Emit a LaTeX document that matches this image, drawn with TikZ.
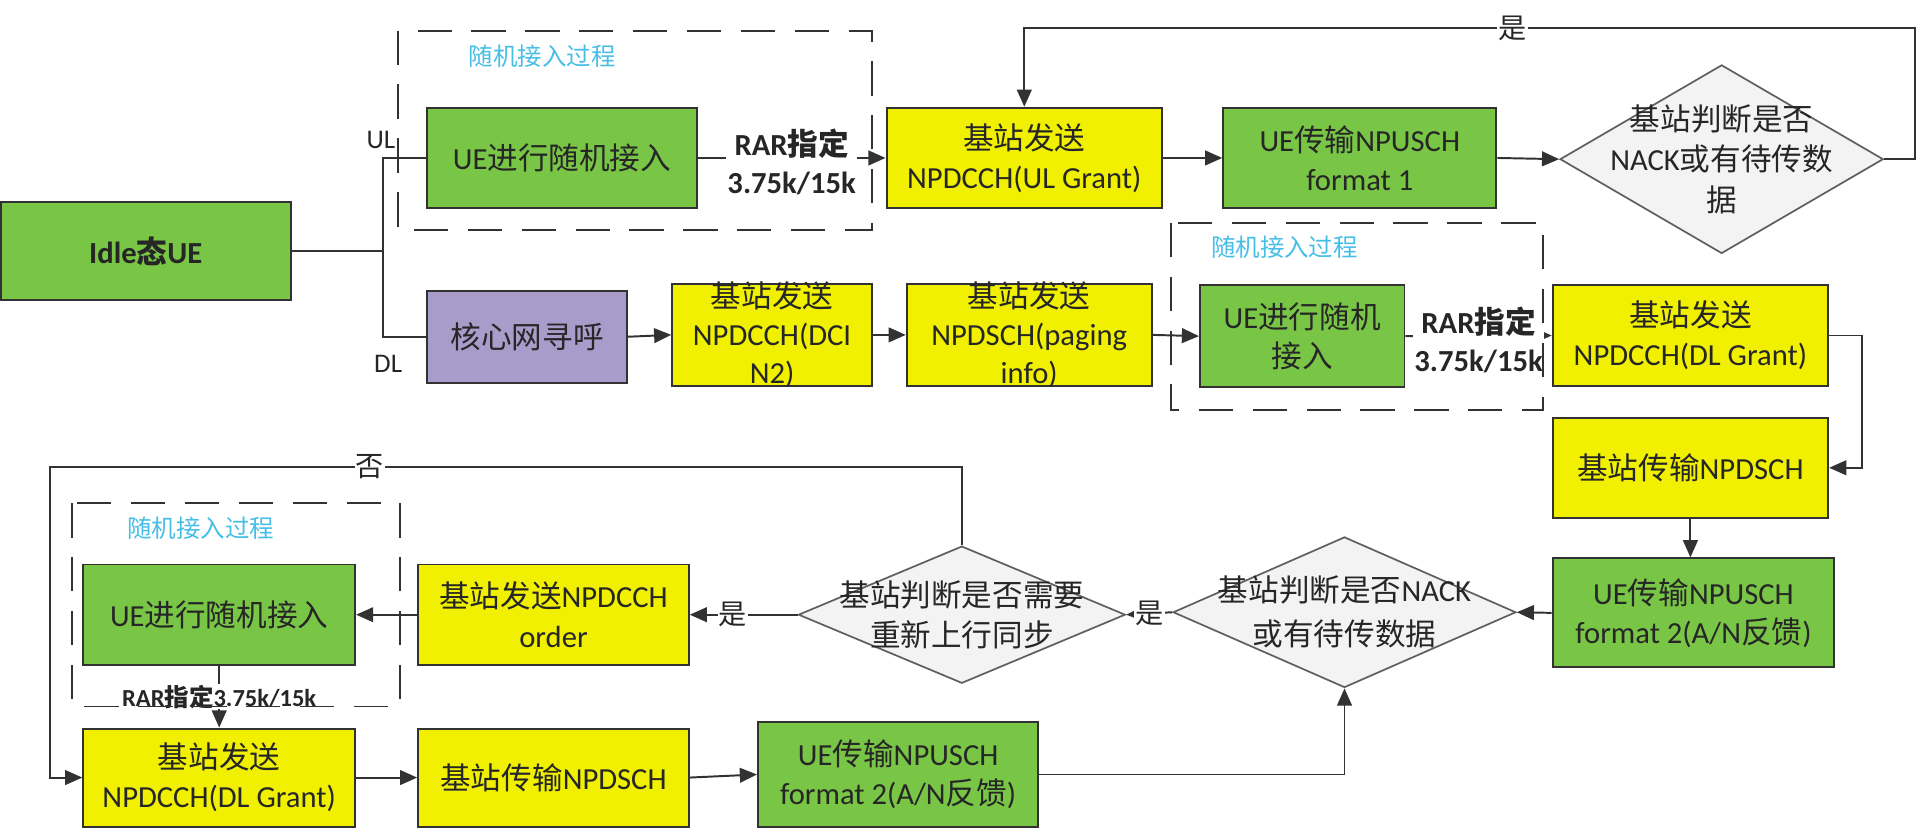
\documentclass[tikz,border=0pt]{standalone}
\usepackage{fontspec}
\setmainfont{Carlito}
\newfontfamily\zh{Noto Sans CJK SC}
\newcommand\zw[1]{{\zh #1}}
\usetikzlibrary{arrows.meta,shapes.geometric}
\definecolor{gfill}{RGB}{121,197,70}
\definecolor{yfill}{RGB}{240,240,0}
\definecolor{pfill}{RGB}{168,156,202}
\definecolor{dfill}{RGB}{243,243,243}
\definecolor{edge}{RGB}{50,50,50}
\definecolor{dedge}{RGB}{95,95,95}
\definecolor{txtc}{RGB}{38,38,38}
\definecolor{cyanlbl}{RGB}{70,190,230}
\begin{document}
\begin{tikzpicture}[x=1pt, y=-1pt,
  every node/.style={font=\fontsize{25}{32}\selectfont, text=txtc},
  sz/.style 2 args={minimum width=#1pt, minimum height=#2pt},
  basebox/.style={draw=edge, line width=1.6pt, inner sep=0pt, align=center},
  gbox/.style={basebox, fill=gfill},
  ybox/.style={basebox, fill=yfill},
  pbox/.style={basebox, fill=pfill},
  dia/.style={diamond, draw=dedge, fill=dfill, line width=1.4pt, inner sep=0pt, aspect=1},
  intext/.style 2 args={label={[align=center, inner sep=0pt, font=\fontsize{25}{#1}\selectfont]center:#2}},
  conn/.style={draw=edge, line width=1.6pt},
  arr/.style={conn, -{Triangle[length=14pt, width=12pt]}},
  lab/.style={fill=white, inner sep=1pt, font=\fontsize{23}{28}\selectfont\zh},
  rar/.style={fill=white, inner sep=1pt, align=center, yshift=-3pt, font=\fontsize{25}{31}\selectfont\bfseries},
  rarsmall/.style={fill=white, inner sep=0.5pt, font=\fontsize{20}{24}\selectfont\bfseries},
  grouplbl/.style={text=cyanlbl, font=\fontsize{20}{24}\selectfont\zh},
  groupbox/.style={draw=edge, line width=1.5pt, dash pattern=on 28pt off 16pt},
  branch/.style={font=\fontsize{22}{26}\selectfont}
]
\useasboundingbox (0,0) rectangle (1568,679);

% ---- upper row: uplink path ----
\node[gbox, sz={237}{80}] (idle) at (119,205) {\bfseries Idle\zw{态}UE};
\node[gbox, sz={220}{82}] (ra1) at (459,129) {UE\zw{进行随机接入}};
\node[ybox, sz={225}{82}] (ulg) at (836.5,129) {\zw{基站发送}\\NPDCCH(UL Grant)};
\node[gbox, sz={223}{82}] (f1) at (1110.5,129) {UE\zw{传输}NPUSCH\\format 1};
\node[dia, sz={264}{154}, intext={33}{\zw{基站判断是否}\\NACK\zw{或有待传数}\\\zw{据}}] (d1) at (1406,130) {};

% ---- second row: downlink paging path ----
\node[pbox, sz={163}{75}] (page) at (430.5,275) {\zw{核心网寻呼}};
\node[ybox, sz={163}{83}, intext={31}{\zw{基站发送}\\NPDCCH(DCI\\N2)}] (dci) at (630.5,273.5) {};
\node[ybox, sz={200}{83}, intext={31}{\zw{基站发送}\\NPDSCH(paging\\info)}] (pinfo) at (840.5,273.5) {};
\node[gbox, sz={167}{83}] (ra2) at (1063.5,274.5) {UE\zw{进行随机}\\\zw{接入}};
\node[ybox, sz={225}{82}] (dlg) at (1380.5,274) {\zw{基站发送}\\NPDCCH(DL Grant)};
\node[ybox, sz={225}{82}] (npd1) at (1380.5,382) {\zw{基站传输}NPDSCH};
\node[gbox, sz={230}{89}] (f2a) at (1383,500.5) {UE\zw{传输}NPUSCH\\format 2(A/N\zw{反馈})};

% ---- lower rows: decisions and resynchronisation ----
\node[dia, sz={280}{123}, intext={36}{\zw{基站判断是否}NACK\\\zw{或有待传数据}}] (d3) at (1098,500) {};
\node[dia, sz={267}{112}, intext={33}{\zw{基站判断是否需要}\\\zw{重新上行同步}}] (d2) at (785.5,502) {};
\node[ybox, sz={221}{82}] (order) at (452,502) {\zw{基站发送}NPDCCH\\order};
\node[gbox, sz={222}{82}] (ra3) at (179,502) {UE\zw{进行随机接入}};
\node[ybox, sz={222}{80}] (dlg2) at (179,635) {\zw{基站发送}\\NPDCCH(DL Grant)};
\node[ybox, sz={221}{80}] (npd2) at (452,635) {\zw{基站传输}NPDSCH};
\node[gbox, sz={229}{85}] (f2b) at (733.5,632.5) {UE\zw{传输}NPUSCH\\format 2(A/N\zw{反馈})};

% ---- branching from the idle UE ----
\coordinate (jn) at (312.5,205);
\draw[conn] (idle.east) -- (jn);
\draw[conn] (ra1.west) -| (jn) |- (page.west);
\node[branch] (ul) at (311,114) {UL};
\node[branch] (dl) at (317,297) {DL};

% ---- uplink connectors ----
\draw[arr] (ra1.east) -- node[rar] (rar1) {RAR\zw{指定}\\3.75k/15k} (ulg.west);
\draw[arr] (ulg.east) -- (f1.west);
\draw[arr] (f1.east) -- (d1.west);
\coordinate (tr) at (1564,23);
\draw[arr] (d1.east) -| (tr) -- node[lab, pos=0.452] (yes1) {是} (ulg.north |- tr) -- (ulg.north);

% ---- downlink connectors ----
\draw[arr] (page.east) -- (dci.west);
\draw[arr] (dci.east) -- (pinfo.west);
\draw[arr] (pinfo.east) -- (ra2.west);
\draw[arr] (ra2.east) -- node[rar] (rar2) {RAR\zw{指定}\\3.75k/15k} (dlg.west);
\coordinate (rr) at (1520.5,274);
\draw[arr] (dlg.east) -- (rr) |- (npd1.east);
\draw[arr] (npd1.south) -- (npd1.south |- f2a.north);
\draw[arr] (f2a.west) -- (d3.east);
\draw[arr] (d3.west) -- node[lab] (yes2) {是} (d2.east);
\draw[arr] (d2.west) -- node[lab, pos=0.6] (yes3) {是} (order.east);
\draw[arr] (order.west) -- (ra3.east);
\draw[arr] (ra3.south) -- node[rarsmall] (rar3) {RAR\zw{指定}3.75k/15k} (dlg2.north);
\draw[arr] (dlg2.east) -- (npd2.west);
\draw[arr] (npd2.east) -- (f2b.west);
\draw[arr] (f2b.east) -| (d3.south);
\coordinate (nl) at (40.6,381);
\draw[arr] (d2.north) -- (d2.north |- nl) -- node[lab, pos=0.649] (no1) {否} (nl) |- (dlg2.west);

% ---- random access frames ----
\draw[groupbox] (325,25) rectangle (712,188);
\node[grouplbl] (g1) at (443,46) {随机接入过程};
\draw[groupbox] (956,182) rectangle (1260,335);
\node[grouplbl] (g2) at (1049,202) {随机接入过程};
\draw[groupbox] (59,411) rectangle (327,577);
\node[grouplbl] (g3) at (164,431) {随机接入过程};
\end{tikzpicture}
\end{document}
